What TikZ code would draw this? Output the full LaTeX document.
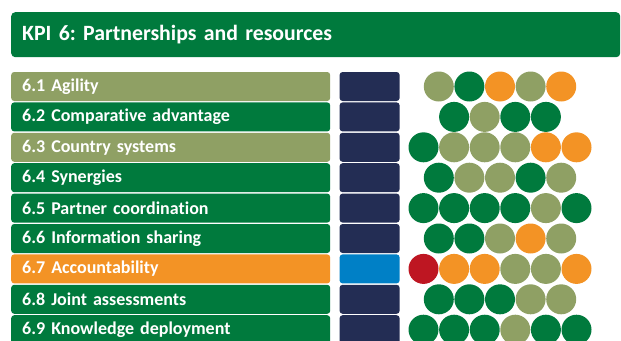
\documentclass[tikz,border=0pt]{standalone}
\usepackage{fontspec}
\setmainfont{Carlito}[Ligatures=NoCommon]
\usetikzlibrary{positioning}

\definecolor{kpigreen}{RGB}{0,122,61}
\definecolor{kpiolive}{RGB}{143,160,100}
\definecolor{kpiorange}{RGB}{243,147,37}
\definecolor{kpinavy}{RGB}{35,45,84}
\definecolor{kpiblue}{RGB}{0,128,198}
\definecolor{kpired}{RGB}{190,22,34}

\tikzset{
  titlebox/.style={fill=kpigreen, rounded corners=4pt, text=white,
    font=\bfseries\fontsize{21.8}{24}\selectfont, minimum height=45pt,
    text width=587pt, inner xsep=11pt, inner ysep=0pt, anchor=north west},
  bar/.style={rounded corners=3pt, text=white,
    font=\bfseries\fontsize{18}{20}\selectfont, minimum height=29pt,
    text width=297pt, inner xsep=11pt, inner ysep=0pt, anchor=west},
  score/.style={fill=kpinavy, rounded corners=3pt, minimum width=60pt,
    minimum height=29pt, inner sep=0pt},
  dot/.style={circle, minimum size=30pt, inner sep=0pt}
}

\begin{document}
\frenchspacing
\begin{tikzpicture}[x=1pt, y=-1pt]
\useasboundingbox (0,0) rectangle (621,340);
% title
\node[titlebox] (kpi) at (11,12) {KPI 6: Partnerships and resources};
% bars
\node[bar, fill=kpiolive] (agility) at (11,86.5) {6.1 Agility};
\node[bar, fill=kpigreen] (advantage) at (11,116.9) {6.2 Comparative advantage};
\node[bar, fill=kpiolive] (systems) at (11,147.3) {6.3 Country systems};
\node[bar, fill=kpigreen] (synergies) at (11,177.7) {6.4 Synergies};
\node[bar, fill=kpigreen] (coordination) at (11,208.1) {6.5 Partner coordination};
\node[bar, fill=kpigreen] (sharing) at (11,238.5) {6.6 Information sharing};
\node[bar, fill=kpiorange] (accountability) at (11,268.9) {6.7 Accountability};
\node[bar, fill=kpigreen] (assessments) at (11,299.3) {6.8 Joint assessments};
\node[bar, fill=kpigreen] (deployment) at (11,329.7) {6.9 Knowledge deployment};
% score boxes
\node[score, right=9pt of agility] (agility-s) {};
\node[score, right=9pt of advantage] (advantage-s) {};
\node[score, right=9pt of systems] (systems-s) {};
\node[score, right=9pt of synergies] (synergies-s) {};
\node[score, right=9pt of coordination] (coordination-s) {};
\node[score, right=9pt of sharing] (sharing-s) {};
\node[score, right=9pt of accountability, fill=kpiblue] (accountability-s) {};
\node[score, right=9pt of assessments] (assessments-s) {};
\node[score, right=9pt of deployment] (deployment-s) {};
% dots
\foreach \c [count=\k] in {kpiolive,kpigreen,kpiorange,kpiolive,kpiorange}
  \node[dot, fill=\c] (agility-\k) at ({438.8+30.6*(\k-1)},86.5) {};
\foreach \c [count=\k] in {kpigreen,kpiolive,kpigreen,kpigreen}
  \node[dot, fill=\c] (advantage-\k) at ({454.1+30.6*(\k-1)},116.9) {};
\foreach \c [count=\k] in {kpigreen,kpiolive,kpiolive,kpiolive,kpiorange,kpiorange}
  \node[dot, fill=\c] (systems-\k) at ({423.5+30.6*(\k-1)},147.3) {};
\foreach \c [count=\k] in {kpigreen,kpiolive,kpiolive,kpigreen,kpiolive}
  \node[dot, fill=\c] (synergies-\k) at ({438.8+30.6*(\k-1)},177.7) {};
\foreach \c [count=\k] in {kpigreen,kpigreen,kpigreen,kpigreen,kpiolive,kpigreen}
  \node[dot, fill=\c] (coordination-\k) at ({423.5+30.6*(\k-1)},208.1) {};
\foreach \c [count=\k] in {kpigreen,kpigreen,kpiolive,kpiorange,kpiolive}
  \node[dot, fill=\c] (sharing-\k) at ({438.8+30.6*(\k-1)},238.5) {};
\foreach \c [count=\k] in {kpired,kpiorange,kpiorange,kpiolive,kpiolive,kpiorange}
  \node[dot, fill=\c] (accountability-\k) at ({423.5+30.6*(\k-1)},268.9) {};
\foreach \c [count=\k] in {kpigreen,kpigreen,kpigreen,kpiolive,kpiolive}
  \node[dot, fill=\c] (assessments-\k) at ({438.8+30.6*(\k-1)},299.3) {};
\foreach \c [count=\k] in {kpigreen,kpigreen,kpigreen,kpiolive,kpigreen,kpigreen}
  \node[dot, fill=\c] (deployment-\k) at ({423.5+30.6*(\k-1)},329.7) {};
\end{tikzpicture}
\end{document}
